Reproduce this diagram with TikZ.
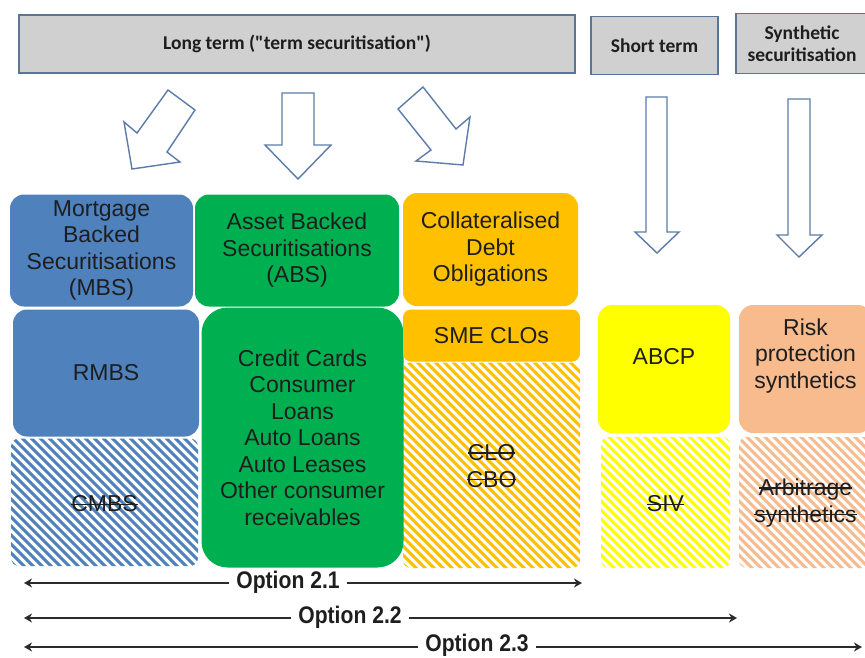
\documentclass[tikz,border=0pt]{standalone}
\usepackage{fontspec}
\setmainfont{Liberation Sans}
\newfontfamily\hdrfont{Carlito}
\newfontfamily\optfont{Liberation Sans}[FakeStretch=0.88]
\usetikzlibrary{arrows.meta}
\definecolor{mbsblue}{HTML}{4F81BD}
\definecolor{absgreen}{HTML}{00B050}
\definecolor{cdoorange}{HTML}{FFC000}
\definecolor{abcpyellow}{HTML}{FFFF00}
\definecolor{peach}{HTML}{F8BB8E}
\definecolor{hdrgray}{HTML}{D0D0D0}
\definecolor{hdrline}{HTML}{5A7697}
\definecolor{arrline}{HTML}{5B7CA8}
\definecolor{txt}{HTML}{1E1E1E}
\definecolor{optline}{HTML}{2B2B2B}
\newcommand\strk[1]{\setbox0=\hbox{#1}\rlap{\copy0}\rule[0.3em]{\wd0}{0.065em}}
% hatched rounded rectangle: x1,y1,x2,y2,colour
\newcommand\hatchrect[5]{%
  \begin{scope}
    \clip[rounded corners=8pt] (#1,#2) rectangle (#3,#4);
    \pgfmathsetmacro\hh{#4-#2+10}
    \foreach \k in {0,...,50}
      \draw[#5, line width=3.1pt] ({#1-\hh+\k*9},{#2-5}) -- ++(\hh+10,\hh+10);
  \end{scope}}
\tikzset{
  hdr/.style={draw=hdrline, line width=1.4pt, fill=hdrgray, inner sep=0pt,
    font=\hdrfont\bfseries\fontsize{19.5}{21.5}\selectfont, text=txt, align=center},
  blockarrow/.style={draw=arrline, line width=1.4pt, fill=white, line join=miter},
  box/.style={fill=#1, rounded corners=14pt, inner sep=0pt, align=center,
    font=\fontsize{23}{26.5}\selectfont, text=txt},
  boxtext/.style={inner sep=0pt, align=center, text=txt,
    font=\fontsize{23}{26.5}\selectfont},
  optarrow/.style={draw=optline, line width=1.8pt,
    {Stealth[length=8pt,width=9pt,inset=2.5pt]}-{Stealth[length=8pt,width=9pt,inset=2.5pt]}},
  optlabel/.style={fill=white, inner xsep=7pt, inner ysep=1pt,
    font=\optfont\bfseries\fontsize{24}{26}\selectfont, text=txt}
}
\begin{document}
\begin{tikzpicture}[x=1pt,y=-1pt]
\useasboundingbox (0,0) rectangle (865,657);
\clip (0,0) rectangle (865,657);
\fill[white] (0,0) rectangle (865,657);

% headers
\node[hdr, minimum width=556pt, minimum height=58pt] (lt) at (297,44) {Long term ("term securitisation")};
\node[hdr, minimum width=127pt, minimum height=58pt] (st) at (654.5,45.5) {Short term};
\node[hdr, minimum width=132pt, minimum height=60pt] (syn) at (802,43.5) {Synthetic\\securitisation};

% block arrows
\draw[blockarrow] (168,90) -- (195,110) -- (167,152) -- (180,162) -- (132,169) -- (124,122) -- (137,133) -- cycle;
\draw[blockarrow] (282,93) -- (314,93) -- (314,145) -- (331,145) -- (298,179) -- (265,145) -- (282,145) -- cycle;
\draw[blockarrow] (423,87) -- (456,129) -- (470,117) -- (463,165) -- (416,161) -- (431,150) -- (398,109) -- cycle;
\draw[blockarrow] (646,97) -- (667,97) -- (667,232) -- (679,232) -- (657,253) -- (635,232) -- (646,232) -- cycle;
\draw[blockarrow] (788,99) -- (810,99) -- (810,235) -- (822,235) -- (799,257) -- (777,235) -- (788,235) -- cycle;

% hatched (discarded) categories
\hatchrect{11}{438.5}{198}{566}{mbsblue}
\hatchrect{403}{362.5}{580}{568}{cdoorange}
\hatchrect{601}{437}{730}{568}{abcpyellow}
\hatchrect{739}{437}{872}{568}{peach}

% MBS column
\node[box=mbsblue, minimum width=183pt, minimum height=112pt] (mbs) at (101.5,250.5)
  {Mortgage\\Backed\\Securitisations\\(MBS)};
\node[box=mbsblue, minimum width=186pt, minimum height=127pt] (rmbs) at (106,373) {RMBS};
\node[boxtext] (cmbs) at (104.5,504) {\strk{CMBS}};

% ABS column
\node[box=absgreen, minimum width=204pt, minimum height=112pt] (abs) at (297,250.5)
  {Asset Backed\\Securitisations\\(ABS)};
\node[box=absgreen, rounded corners=26pt, minimum width=202pt, minimum height=260pt] (cc) at (302.5,437.5)
  {Credit Cards\\Consumer\\Loans\\Auto Loans\\Auto Leases\\Other consumer\\receivables};

% CDO column
\node[box=cdoorange, minimum width=175pt, minimum height=113pt] (cdo) at (490.5,249.5)
  {Collateralised\\Debt\\Obligations};
\node[box=cdoorange, rounded corners=8pt, minimum width=177pt, minimum height=52pt] (sme) at (491.5,335.5) {SME CLOs};
\node[boxtext] (clo) at (491.5,466) {\strk{CLO}\\\strk{CBO}};

% short term column
\node[box=abcpyellow, minimum width=132pt, minimum height=128pt] (abcp) at (664,369) {};
\node[boxtext] (abcpt) at (664,357) {ABCP};
\node[boxtext] (siv) at (665.5,504) {\strk{SIV}};

% synthetic column
\node[box=peach, minimum width=133pt, minimum height=128pt] (risk) at (805.5,369) {};
\node[boxtext] (riskt) at (805.5,356) {Risk\\protection\\synthetics};
\node[boxtext] (arb) at (805.5,503) {\strk{Arbitrage}\\\strk{synthetics}};

% option arrows
\coordinate (o1l) at (24,583); \coordinate (o1r) at (582,583);
\coordinate (o2l) at (24,618); \coordinate (o2r) at (737,618);
\coordinate (o3l) at (24,647); \coordinate (o3r) at (862,647);
\draw[optarrow] (o1l) -- (o1r);
\draw[optarrow] (o2l) -- (o2r);
\draw[optarrow] (o3l) -- (o3r);
\node[optlabel] (o1) at (288,582) {Option 2.1};
\node[optlabel] (o2) at (350,617) {Option 2.2};
\node[optlabel] (o3) at (477,645) {Option 2.3};
\end{tikzpicture}
\end{document}
